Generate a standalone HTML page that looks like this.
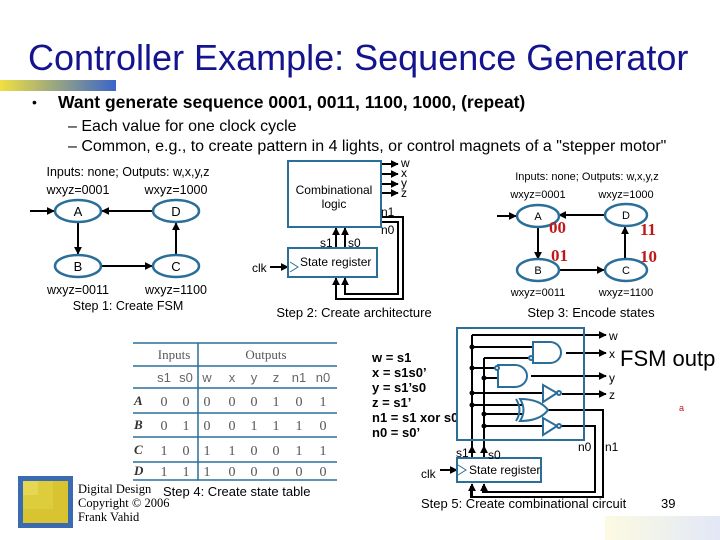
<!DOCTYPE html>
<html><head><meta charset="utf-8"><style>
html,body{margin:0;padding:0;background:#fff;}
svg{display:block;}
text{font-family:"Liberation Sans",sans-serif;}
.s{font-family:"Liberation Serif",serif;}
</style></head><body>
<svg width="720" height="540" viewBox="0 0 720 540" xmlns="http://www.w3.org/2000/svg">
<defs>
<linearGradient id="bar" x1="0" x2="1" y1="0" y2="0"><stop offset="0" stop-color="#f0e040"/><stop offset="1" stop-color="#3a66c8"/></linearGradient>
<marker id="ar" viewBox="0 0 10 10" refX="9" refY="5" markerWidth="4" markerHeight="4" orient="auto"><path d="M0,0L10,5L0,10z" fill="#000"/></marker>
</defs>
<!-- title -->
<text x="28" y="70" font-size="36" fill="#14148f">Controller Example: Sequence Generator</text>
<rect x="0" y="80" width="116" height="11" fill="url(#bar)"/>
<text x="32" y="107" font-size="14">•</text>
<text x="58" y="108" font-size="17.5" font-weight="bold">Want generate sequence 0001, 0011, 1100, 1000, (repeat)</text>
<text x="68" y="131" font-size="16">–  Each value for one clock cycle</text>
<text x="68" y="151" font-size="16">–  Common, e.g., to create pattern in 4 lights, or control magnets of a "stepper motor"</text>

<!-- Step1 -->
<g font-size="12.5" text-anchor="middle">
<text x="128" y="176">Inputs: none; Outputs: w,x,y,z</text>
<text x="78" y="194">wxyz=0001</text><text x="176" y="194">wxyz=1000</text>
<text x="78" y="294">wxyz=0011</text><text x="176" y="294">wxyz=1100</text>
<text x="128" y="310">Step 1: Create FSM</text>
</g>
<g stroke="#000" stroke-width="2" marker-end="url(#ar)">
<line x1="30" y1="211" x2="54" y2="211"/>
<line x1="152" y1="211" x2="102" y2="211"/>
<line x1="78" y1="223" x2="78" y2="254"/>
<line x1="102" y1="266" x2="152" y2="266"/>
<line x1="176" y1="254" x2="176" y2="223"/>
</g>
<g fill="#fff" stroke="#2a6e9a" stroke-width="2.5">
<ellipse cx="78" cy="211" rx="23" ry="11"/><ellipse cx="176" cy="211" rx="23" ry="11"/>
<ellipse cx="78" cy="266" rx="23" ry="11"/><ellipse cx="176" cy="266" rx="23" ry="11"/>
</g>
<g font-size="13" text-anchor="middle"><text x="78" y="216">A</text><text x="176" y="216">D</text><text x="78" y="271">B</text><text x="176" y="271">C</text></g>

<!-- Step2 -->
<g stroke="#000" stroke-width="2" fill="none">
<polyline points="381,217 403,217 403,299 336,299 336,286"/>
<polyline points="381,222 398,222 398,294 345,294 345,286"/>
</g>
<g stroke="#000" stroke-width="2" marker-end="url(#ar)">
<line x1="381" y1="164" x2="398" y2="164"/><line x1="381" y1="174" x2="398" y2="174"/>
<line x1="381" y1="184" x2="398" y2="184"/><line x1="381" y1="193" x2="398" y2="193"/>
<line x1="336" y1="248" x2="336" y2="228"/><line x1="345" y1="248" x2="345" y2="228"/>
<line x1="336" y1="294" x2="336" y2="278"/><line x1="345" y1="289" x2="345" y2="278"/>
<line x1="270" y1="267" x2="288" y2="267"/>
</g>
<rect x="288" y="161" width="93" height="66" fill="#fff" stroke="#2a6e9a" stroke-width="2"/>
<rect x="288" y="248" width="89" height="29" fill="#fff" stroke="#2a6e9a" stroke-width="2"/>
<path d="M290,262 L298,267 L290,272" fill="none" stroke="#2a6e9a"/>
<g font-size="12">
<text x="334" y="194" text-anchor="middle">Combinational</text><text x="334" y="208" text-anchor="middle">logic</text>
<text x="401" y="167">w</text><text x="401" y="177">x</text><text x="401" y="187">y</text><text x="401" y="197">z</text>
<text x="381" y="216">n1</text><text x="381" y="234">n0</text>
<text x="320" y="247">s1</text><text x="348" y="247">s0</text>
<text x="300" y="266">State register</text>
<text x="252" y="272">clk</text>
<text x="354" y="317" text-anchor="middle" font-size="13">Step 2: Create architecture</text>
</g>

<!-- Step3 -->
<g font-size="11" text-anchor="middle">
<text x="587" y="180">Inputs: none; Outputs: w,x,y,z</text>
<text x="538" y="198">wxyz=0001</text><text x="626" y="198">wxyz=1000</text>
<text x="538" y="296">wxyz=0011</text><text x="626" y="296">wxyz=1100</text>
<text x="591" y="317" font-size="13">Step 3: Encode states</text>
</g>
<g stroke="#000" stroke-width="2" marker-end="url(#ar)">
<line x1="497" y1="216" x2="516" y2="216"/>
<line x1="604" y1="215" x2="559" y2="215"/>
<line x1="538" y1="226" x2="538" y2="259"/>
<line x1="559" y1="270" x2="604" y2="270"/>
<line x1="625" y1="259" x2="625" y2="227"/>
</g>
<g fill="#fff" stroke="#2a6e9a" stroke-width="2.5">
<ellipse cx="538" cy="216" rx="21" ry="11"/><ellipse cx="626" cy="215" rx="21" ry="11"/>
<ellipse cx="538" cy="270" rx="21" ry="11"/><ellipse cx="626" cy="270" rx="21" ry="11"/>
</g>
<g font-size="11" text-anchor="middle"><text x="538" y="220">A</text><text x="626" y="219">D</text><text x="538" y="274">B</text><text x="626" y="274">C</text></g>
<g class="s" font-size="17" font-weight="bold" fill="#c01818">
<text x="549" y="233" class="s">00</text><text x="640" y="235" class="s">11</text>
<text x="551" y="261" class="s">01</text><text x="640" y="262" class="s">10</text>
</g>

<!-- Step4 table -->
<g stroke="#2a6e9a" stroke-width="1.5">
<line x1="133" y1="343" x2="337" y2="343"/><line x1="133" y1="366" x2="337" y2="366"/>
<line x1="133" y1="388" x2="337" y2="388"/><line x1="133" y1="413" x2="337" y2="413"/>
<line x1="133" y1="437" x2="337" y2="437"/><line x1="133" y1="462" x2="337" y2="462"/>
<line x1="133" y1="480" x2="337" y2="480"/><line x1="198" y1="343" x2="198" y2="480"/>
</g>
<g class="s" font-size="13" fill="#555" text-anchor="middle">
<text x="174" y="359" class="s">Inputs</text><text x="266" y="359" class="s">Outputs</text>
</g>
<g font-size="13" fill="#666" text-anchor="middle">
<text x="164" y="382" font-family="Liberation Mono">s1</text><text x="186" y="382" font-family="Liberation Mono">s0</text>
<text x="207" y="382" font-family="Liberation Mono">w</text><text x="232" y="382" font-family="Liberation Mono">x</text>
<text x="254" y="382" font-family="Liberation Mono">y</text><text x="276" y="382" font-family="Liberation Mono">z</text>
<text x="299" y="382" font-family="Liberation Mono">n1</text><text x="323" y="382" font-family="Liberation Mono">n0</text>
</g>
<g class="s" font-size="13" font-style="italic" font-weight="bold" fill="#333">
<text x="134" y="405" class="s">A</text><text x="134" y="429" class="s">B</text><text x="134" y="454" class="s">C</text><text x="134" y="475" class="s">D</text>
</g>
<g class="s" font-size="14" fill="#555" text-anchor="middle">
<text x="164" y="406" class="s">0</text><text x="186" y="406" class="s">0</text><text x="207" y="406" class="s">0</text><text x="232" y="406" class="s">0</text><text x="254" y="406" class="s">0</text><text x="276" y="406" class="s">1</text><text x="299" y="406" class="s">0</text><text x="323" y="406" class="s">1</text>
<text x="164" y="430" class="s">0</text><text x="186" y="430" class="s">1</text><text x="207" y="430" class="s">0</text><text x="232" y="430" class="s">0</text><text x="254" y="430" class="s">1</text><text x="276" y="430" class="s">1</text><text x="299" y="430" class="s">1</text><text x="323" y="430" class="s">0</text>
<text x="164" y="455" class="s">1</text><text x="186" y="455" class="s">0</text><text x="207" y="455" class="s">1</text><text x="232" y="455" class="s">1</text><text x="254" y="455" class="s">0</text><text x="276" y="455" class="s">0</text><text x="299" y="455" class="s">1</text><text x="323" y="455" class="s">1</text>
<text x="164" y="476" class="s">1</text><text x="186" y="476" class="s">1</text><text x="207" y="476" class="s">1</text><text x="232" y="476" class="s">0</text><text x="254" y="476" class="s">0</text><text x="276" y="476" class="s">0</text><text x="299" y="476" class="s">0</text><text x="323" y="476" class="s">0</text>
</g>
<text x="163" y="496" font-size="13">Step 4: Create state table</text>

<!-- logo -->
<rect x="18" y="476" width="55" height="52" fill="#3a6ab0"/>
<rect x="23" y="481" width="45" height="42" fill="#d8c430"/>
<rect x="23" y="481" width="30" height="28" fill="#e0d040" opacity="0.7"/>
<rect x="23" y="481" width="15" height="14" fill="#e8dc60" opacity="0.7"/>
<g class="s" font-size="12.5"><text x="78" y="493" class="s">Digital Design</text><text x="78" y="507" class="s">Copyright © 2006</text><text x="78" y="521" class="s">Frank Vahid</text></g>

<!-- Step5 -->
<g font-size="13" font-weight="bold">
<text x="372" y="362">w = s1</text><text x="372" y="377">x = s1s0’</text><text x="372" y="392">y = s1’s0</text>
<text x="372" y="407">z = s1’</text><text x="372" y="422">n1 = s1 xor s0</text><text x="372" y="437">n0 = s0’</text>
</g>
<g stroke="#000" stroke-width="2" fill="none">
<polyline points="548,410 603,410 603,497 471,497 471,486"/>
<polyline points="560,426 595,426 595,492 483,492 483,486"/>
<polyline points="472,458 472,335"/>
<polyline points="484,458 484,358"/>
<line x1="472" y1="347" x2="533" y2="347"/>
<line x1="484" y1="358" x2="530" y2="358"/>
<line x1="472" y1="368" x2="496" y2="368"/>
<line x1="484" y1="378" x2="499" y2="378"/>
<line x1="472" y1="393" x2="542" y2="393"/>
<line x1="472" y1="405" x2="522" y2="405"/>
<line x1="484" y1="414" x2="522" y2="414"/>
<line x1="484" y1="426" x2="542" y2="426"/>
</g>
<g stroke="#000" stroke-width="2" marker-end="url(#ar)">
<line x1="472" y1="335" x2="606" y2="335"/><line x1="566" y1="353" x2="606" y2="353"/>
<line x1="531" y1="376" x2="606" y2="376"/><line x1="562" y1="394" x2="606" y2="394"/>
<line x1="472" y1="458" x2="472" y2="446"/><line x1="484" y1="458" x2="484" y2="446"/>
<line x1="472" y1="497" x2="472" y2="484"/><line x1="484" y1="492" x2="484" y2="484"/>
<line x1="440" y1="470" x2="457" y2="470"/>
</g>
<g fill="#000"><circle cx="472" cy="347" r="2.5"/><circle cx="472" cy="368" r="2.5"/><circle cx="472" cy="393" r="2.5"/><circle cx="472" cy="405" r="2.5"/>
<circle cx="484" cy="378" r="2.5"/><circle cx="484" cy="414" r="2.5"/><circle cx="484" cy="426" r="2.5"/></g>
<rect x="457" y="328" width="127" height="112" fill="none" stroke="#2a6e9a" stroke-width="2"/>
<g fill="#fff" stroke="#2a6e9a" stroke-width="2">
<path d="M533,342 L550,342 A11,10.5 0 0 1 550,363 L533,363 Z"/>
<path d="M498,365 L515,365 A12,11 0 0 1 515,387 L498,387 Z"/>
<path d="M543,385 L557,393 L543,402 Z"/>
<path d="M543,418 L557,426 L543,435 Z"/>
<path d="M520,399 Q540,399 548,410 Q540,421 520,421 Q527,410 520,399 Z"/>
<path d="M516,399 Q523,410 516,421" fill="none"/>
<circle cx="531" cy="358" r="2"/><circle cx="497" cy="368" r="2"/><circle cx="559" cy="393" r="2"/><circle cx="559" cy="426" r="2"/>
</g>
<rect x="457" y="458" width="84" height="24" fill="#fff" stroke="#2a6e9a" stroke-width="2"/>
<path d="M458,465 L466,470 L458,475" fill="none" stroke="#2a6e9a"/>
<g font-size="12">
<text x="609" y="340">w</text><text x="609" y="358">x</text><text x="609" y="382">y</text><text x="609" y="399">z</text>
<text x="456" y="457">s1</text><text x="488" y="459">s0</text>
<text x="578" y="451">n0</text><text x="605" y="451">n1</text>
<text x="469" y="474">State register</text><text x="421" y="478">clk</text>
<text x="421" y="508" font-size="13">Step 5: Create  combinational circuit</text>
<text x="661" y="508" font-size="13">39</text>
</g>
<text x="620" y="366" font-size="22">FSM outp</text>
<text x="679" y="411" font-size="9" fill="#c01818">a</text>
<rect x="605" y="516" width="115" height="24" fill="url(#bar)" opacity="0.15"/>
</svg>
</body></html>
